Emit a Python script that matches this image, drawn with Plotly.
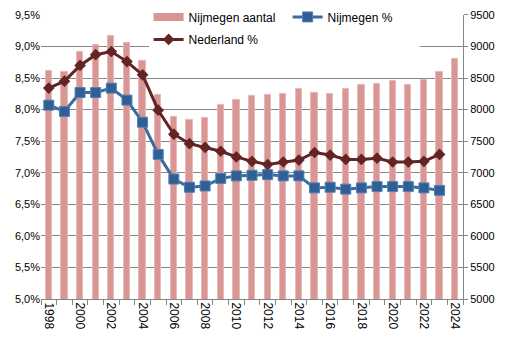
import plotly.graph_objects as go

years = list(range(1998, 2025))
nijmegen_aantal = [8620, 8600, 8920, 9030, 9160, 9060, 8765, 8240, 7890, 7835, 7875,
                   8070, 8160, 8222, 8235, 8250, 8330, 8265, 8250, 8330, 8390, 8410,
                   8455, 8390, 8475, 8600, 8810]
years_pct = list(range(1998, 2024))
nijmegen_pct = [8.07, 7.97, 8.27, 8.27, 8.34, 8.15, 7.80, 7.29, 6.90, 6.77, 6.79,
                6.91, 6.95, 6.96, 6.97, 6.95, 6.95, 6.76, 6.77, 6.74, 6.76, 6.78,
                6.78, 6.78, 6.76, 6.72]
nederland_pct = [8.34, 8.45, 8.70, 8.87, 8.92, 8.76, 8.55, 7.99, 7.61, 7.46, 7.40,
                 7.34, 7.25, 7.18, 7.13, 7.17, 7.20, 7.32, 7.28, 7.21, 7.21, 7.23,
                 7.17, 7.17, 7.18, 7.29]
x_tick_labels = [str(y) for y in range(1998, 2025, 2)]
pct_ticks = [5.0, 5.5, 6.0, 6.5, 7.0, 7.5, 8.0, 8.5, 9.0, 9.5]
pct_tick_labels = ["5,0%", "5,5%", "6,0%", "6,5%", "7,0%", "7,5%", "8,0%", "8,5%", "9,0%", "9,5%"]
count_ticks = [5000, 5500, 6000, 6500, 7000, 7500, 8000, 8500, 9000, 9500]
count_tick_labels = [str(v) for v in count_ticks]

FONT = "Liberation Sans"
BAR_COLOR = "#D99694"

fig = go.Figure()
fig.add_trace(go.Bar(
    x=years, y=nijmegen_aantal, name="Nijmegen aantal", yaxis="y",
    width=0.4, marker=dict(color=BAR_COLOR, line=dict(color="#E8B8B6", width=1)),
    showlegend=False,
))
# legend entry for the bars (Excel-style wide rectangle swatch)
fig.add_trace(go.Scatter(
    x=[None], y=[None], name="Nijmegen aantal", yaxis="y", mode="lines",
    line=dict(color=BAR_COLOR, width=8), legend="legend",
))
fig.add_trace(go.Scatter(
    x=years_pct, y=nijmegen_pct, name="Nijmegen %", yaxis="y2", mode="lines+markers",
    line=dict(color="#3A6A9E", width=3),
    marker=dict(symbol="square", size=10, color="#2F5F93", line=dict(color="#4F81BD", width=1)),
    legend="legend",
))
fig.add_trace(go.Scatter(
    x=years_pct, y=nederland_pct, name="Nederland %", yaxis="y2", mode="lines+markers",
    line=dict(color="#632523", width=3),
    marker=dict(symbol="diamond", size=9, color="#632523"),
    legend="legend2",
))

fig.update_layout(
    width=505, height=362,
    margin=dict(l=41, r=42, t=2, b=63),
    paper_bgcolor="white", plot_bgcolor="white",
    font=dict(family=FONT, size=11, color="#000000"),
    showlegend=True,
    legend=dict(orientation="h", x=0.255, xanchor="left", y=0.966, yanchor="middle",
                bgcolor="white", entrywidth=94, font=dict(family=FONT, size=12),
                borderwidth=0),
    legend2=dict(orientation="h", x=0.255, xanchor="left", y=0.889, yanchor="middle",
                 bgcolor="white", entrywidth=226, font=dict(family=FONT, size=12),
                 borderwidth=0),
    bargap=0,
    xaxis=dict(
        range=[1997.5, 2024.5], tickmode="array",
        tickvals=[int(t) for t in x_tick_labels], ticktext=x_tick_labels,
        tickangle=90, ticks="", showgrid=False, showline=True,
        linecolor="#868686", linewidth=1, automargin=False,
        minor=dict(ticks="outside", tick0=1997.5, dtick=1, ticklen=5,
                   tickcolor="#868686", showgrid=False),
        tickfont=dict(family=FONT, size=12),
    ),
    yaxis=dict(
        side="right", range=[5000, 9500], domain=[0, 0.973], tickmode="array",
        tickvals=count_ticks, ticktext=count_tick_labels, automargin=False,
        showgrid=False, showline=True, linecolor="#868686",
        ticks="outside", ticklen=4, tickcolor="#868686", zeroline=False,
        tickfont=dict(family=FONT, size=11),
    ),
    yaxis2=dict(
        overlaying="y", side="left", range=[5.0, 9.5], tickmode="array",
        tickvals=pct_ticks, ticktext=pct_tick_labels, automargin=False,
        showgrid=True, gridcolor="#868686", gridwidth=1, zeroline=False,
        showline=False, ticks="", tickfont=dict(family=FONT, size=11),
    ),
)

fig.write_html(
    "out.html",
    config={"displayModeBar": False},
    post_script="document.body.style.margin='0';document.body.style.overflow='hidden';",
)
